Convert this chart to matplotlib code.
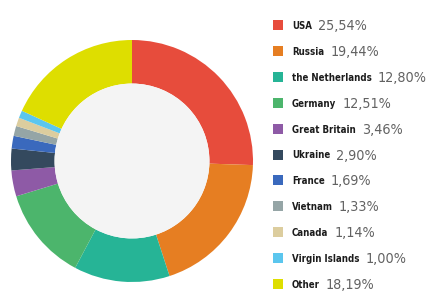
import matplotlib
matplotlib.use('Agg')
import matplotlib.pyplot as plt
from matplotlib import font_manager
from matplotlib.patches import Circle, Rectangle

countries = ['USA', 'Russia', 'the Netherlands', 'Germany', 'Great Britain', 'Ukraine',
             'France', 'Vietnam', 'Canada', 'Virgin Islands', 'Other']
shares = [25.54, 19.44, 12.80, 12.51, 3.46, 2.90, 1.69, 1.33, 1.14, 1.00, 18.19]
colors = ['#e74c3c', '#e67e22', '#26b496', '#4cb56c', '#8e5aa6', '#34495e',
          '#3a69bd', '#95a5a6', '#dccd9e', '#5bc6ee', '#dede00']

W, H = 441, 299
fig = plt.figure(figsize=(W / 100, H / 100), dpi=100)

# donut
cx, cy, r = 132, 161, 121
ax = fig.add_axes([(cx - r) / W, (H - cy - r) / H, 2 * r / W, 2 * r / H])
ax.pie(shares, colors=colors, startangle=90, counterclock=False,
       wedgeprops=dict(width=0.36, linewidth=0))
ax.add_patch(Circle((0, 0), 0.64, facecolor='#f4f4f4', edgecolor='none'))
ax.set_xlim(-1, 1)
ax.set_ylim(-1, 1)
ax.axis('off')

# pick a narrow font if there is one
fonts = font_manager.fontManager.ttflist
font, stretch = 'Liberation Sans', 'normal'
if any(f.name == 'Liberation Sans Narrow' for f in fonts):
    font = 'Liberation Sans Narrow'
elif any(f.name == 'DejaVu Sans' and 'ondensed' in str(f.stretch) or
         (f.name == 'DejaVu Sans' and 'Condensed' in f.fname) for f in fonts):
    font, stretch = 'DejaVu Sans', 'condensed'

renderer = fig.canvas.get_renderer()


def fit_size(text, width_px, **kw):
    t = fig.text(0, 0, text, fontsize=10, family=font, stretch=stretch, **kw)
    w = t.get_window_extent(renderer).width
    t.remove()
    return 10 * width_px / w


name_size = fit_size('the Netherlands', 79, fontweight='bold')
pct_size = fit_size('12,80%', 49)

row0, step = 25, 25.9
names = []
for i, (c, col) in enumerate(zip(countries, colors)):
    y = row0 + i * step
    fig.patches.append(Rectangle((273 / W, (H - y - 5) / H), 10 / W, 10 / H,
                                 facecolor=col, edgecolor='none',
                                 transform=fig.transFigure))
    t = fig.text(292 / W, (H - y - 4) / H, c, family=font, stretch=stretch,
                 fontweight='bold', fontsize=name_size, color='#1c1c1c',
                 va='baseline', ha='left')
    names.append(t)

fig.canvas.draw()
for i, (t, v) in enumerate(zip(names, shares)):
    ext = t.get_window_extent(renderer)
    y = row0 + i * step
    label = f'{v:.2f}%'.replace('.', ',')
    fig.text((ext.x1 + 6) / W, (H - y - 5) / H, label, family=font, stretch=stretch,
             fontsize=pct_size, color='#626262', va='baseline', ha='left')

fig.savefig('out.png', dpi=100)
